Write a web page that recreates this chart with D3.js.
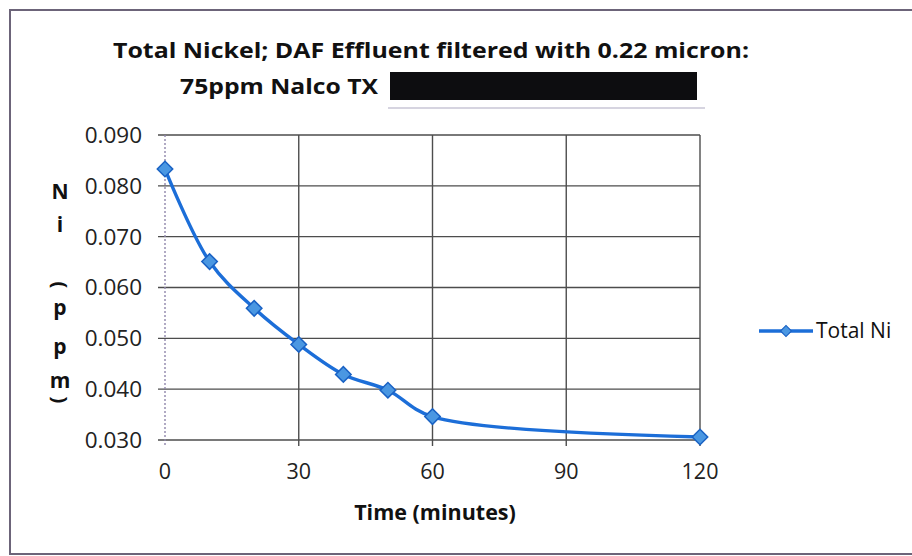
<!DOCTYPE html>
<html>
<head>
<meta charset="utf-8">
<script src="https://cdn.jsdelivr.net/npm/d3@7"></script>
<style>
  body { margin: 0; background: #fff; }
  svg { display: block; font-family: "Open Sans", "Noto Sans", sans-serif; }
</style>
</head>
<body>
<svg id="chart" width="912" height="556"></svg>
<script>
// data
const times = [0, 10, 20, 30, 40, 50, 60, 120];
const totalNi = [0.0833, 0.0651, 0.0559, 0.0488, 0.0429, 0.0398, 0.0346, 0.0306];
const xTicks = [0, 30, 60, 90, 120];
const yTicks = [0.030, 0.040, 0.050, 0.060, 0.070, 0.080, 0.090];
const seriesName = "Total Ni";
const titleLines = ["Total Nickel; DAF Effluent filtered with 0.22 micron:", "75ppm Nalco TX"];
const yTitle = "Ni (ppm)";
const xTitle = "Time (minutes)";

const data = times.map((t, i) => ({ t, v: totalNi[i] }));

const svg = d3.select("#chart");
const plot = { left: 165, right: 700, top: 135, bottom: 440 };

const x = d3.scaleLinear().domain([0, 120]).range([plot.left, plot.right]);
const y = d3.scaleLinear().domain([0.030, 0.090]).range([plot.bottom, plot.top]);

const lineBlue = "#1c6ed8";
const markFill = "#4a97e2";
const markEdge = "#1a62c4";
const gridCol = "#4d4d4d";

// outer frame (right edge is off the scan)
svg.append("path")
  .attr("d", "M912,10 L10,10 L10,554 L912,554")
  .attr("fill", "none")
  .attr("stroke", "#6c6479")
  .attr("stroke-width", 2);

// title
svg.append("text")
  .attr("x", 431).attr("y", 58)
  .attr("text-anchor", "middle")
  .attr("font-weight", "bold")
  .attr("font-size", 22)
  .attr("textLength", 636).attr("lengthAdjust", "spacingAndGlyphs")
  .attr("fill", "#111")
  .text(titleLines[0]);
svg.append("text")
  .attr("x", 180).attr("y", 94)
  .attr("font-weight", "bold")
  .attr("font-size", 22)
  .attr("textLength", 198).attr("lengthAdjust", "spacingAndGlyphs")
  .attr("fill", "#111")
  .text(titleLines[1]);
// redaction box
svg.append("rect")
  .attr("x", 390).attr("y", 72).attr("width", 307).attr("height", 28)
  .attr("fill", "#0d0d10");
svg.append("line")
  .attr("x1", 388).attr("x2", 705).attr("y1", 108).attr("y2", 108)
  .attr("stroke", "#c9c6d6").attr("stroke-width", 1.5);

// horizontal grid + y ticks
svg.append("g")
  .selectAll("line")
  .data(yTicks)
  .join("line")
  .attr("x1", plot.left - 7).attr("x2", plot.right)
  .attr("y1", d => y(d)).attr("y2", d => y(d))
  .attr("stroke", gridCol).attr("stroke-width", 1.4);

// vertical grid + x ticks
svg.append("g")
  .selectAll("line")
  .data(xTicks)
  .join("line")
  .attr("x1", d => x(d)).attr("x2", d => x(d))
  .attr("y1", plot.top).attr("y2", plot.bottom + 6)
  .attr("stroke", d => d === 0 ? "#8f86ab" : gridCol)
  .attr("stroke-dasharray", d => d === 0 ? "2,2" : null)
  .attr("stroke-width", 1.4);

// tick labels
svg.append("g")
  .selectAll("text")
  .data(yTicks)
  .join("text")
  .attr("x", 142).attr("y", d => y(d))
  .attr("dy", "0.35em")
  .attr("text-anchor", "end")
  .attr("font-size", 22.5)
  .attr("fill", "#222")
  .text(d3.format(".3f"));

svg.append("g")
  .selectAll("text")
  .data(xTicks)
  .join("text")
  .attr("x", d => x(d)).attr("y", 471)
  .attr("dy", "0.35em")
  .attr("text-anchor", "middle")
  .attr("font-size", 21.5)
  .attr("fill", "#222")
  .text(d => d);

// axis titles
svg.append("text")
  .attr("x", 435).attr("y", 512)
  .attr("dy", "0.35em")
  .attr("text-anchor", "middle")
  .attr("font-weight", "bold")
  .attr("font-size", 21.5)
  .attr("fill", "#111")
  .text(xTitle);

// stacked y title, parens turned sideways like Excel does
const stackY = [192, 225, 0, 285, 308, 347, 381, 400];
const yTitleG = svg.append("g").attr("font-weight", "bold").attr("font-size", 21).attr("fill", "#111");
yTitle.split("").forEach((ch, i) => {
  if (ch === " ") return;
  if (ch === "(" || ch === ")") {
    // rotate the glyph about its own centre
    yTitleG.append("g")
      .attr("transform", `translate(60,${stackY[i]}) rotate(90)`)
      .append("text")
      .attr("text-anchor", "middle")
      .attr("dominant-baseline", "central")
      .attr("font-size", 20)
      .text(ch);
  } else {
    yTitleG.append("text")
      .attr("x", 60).attr("y", stackY[i])
      .attr("text-anchor", "middle")
      .attr("dy", "0.35em")
      .text(ch);
  }
});

// series line (smoothed like Excel)
const line = d3.line()
  .x(d => x(d.t))
  .y(d => y(d.v))
  .curve(d3.curveCatmullRom.alpha(0.5));

svg.append("path")
  .datum(data)
  .attr("d", line)
  .attr("fill", "none")
  .attr("stroke", lineBlue)
  .attr("stroke-width", 3.4);

const diamond = d3.symbol().type(d3.symbolSquare).size(120);
svg.append("g")
  .selectAll("path")
  .data(data)
  .join("path")
  .attr("d", diamond)
  .attr("transform", d => `translate(${x(d.t)},${y(d.v)}) rotate(45)`)
  .attr("fill", markFill)
  .attr("stroke", markEdge)
  .attr("stroke-width", 1.5);

// legend
const leg = svg.append("g").attr("transform", "translate(759,331)");
leg.append("line")
  .attr("x1", 0).attr("x2", 54)
  .attr("stroke", lineBlue).attr("stroke-width", 3.4);
leg.append("path")
  .attr("d", d3.symbol().type(d3.symbolSquare).size(60))
  .attr("transform", "translate(27,0) rotate(45)")
  .attr("fill", markFill).attr("stroke", markEdge).attr("stroke-width", 1.2);
leg.append("text")
  .attr("x", 57).attr("dy", "0.35em")
  .attr("font-size", 21)
  .attr("fill", "#111")
  .text(seriesName);
</script>
</body>
</html>
